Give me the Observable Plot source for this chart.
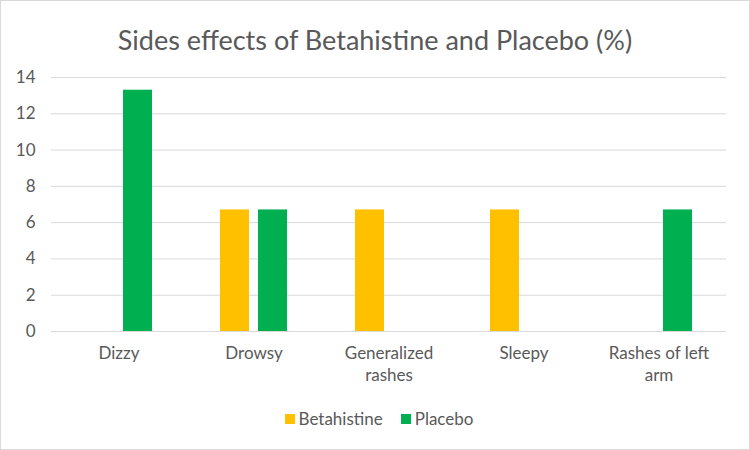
<!DOCTYPE html>
<html><head><meta charset="utf-8">
<script src="https://cdn.jsdelivr.net/npm/d3@7"></script>
<script src="https://cdn.jsdelivr.net/npm/@observablehq/plot@0.6"></script>
<style>
body{margin:0;background:#fff;font-family:Lato,sans-serif;}
#chart{width:750px;height:450px;box-sizing:border-box;border:1px solid #d9d9d9;background:#fff;overflow:hidden}
#title{height:62px;box-sizing:border-box;padding-top:23px;line-height:32px;font-size:27px;color:#595959;text-align:center;white-space:nowrap}
#legend{margin-top:16px;display:flex;justify-content:center;font-size:17px;color:#595959;line-height:20px;padding-left:8px}
.item{display:flex;align-items:center;margin:0 9px}
.sw{width:10px;height:10px;margin-right:4px}
</style>
</head><body>
<div id="chart">
  <div id="title">Sides effects of Betahistine and Placebo (%)</div>
  <div id="plot"></div>
  <div id="legend"></div>
</div>
<script>
const categories = ["Dizzy","Drowsy","Generalized rashes","Sleepy","Rashes of left arm"];
const tickLabels = ["Dizzy","Drowsy","Generalized\nrashes","Sleepy","Rashes of left\narm"];
const series = ["Betahistine","Placebo"];
const betahistine = [0, 6.7, 6.7, 6.7, 0];
const placebo = [13.3, 6.7, 0, 0, 6.7];
const colors = ["#FFC000","#00B050"];
const yTicks = [0,2,4,6,8,10,12,14];

const data = [];
categories.forEach((c,i)=>{
  data.push({category:c, series:"Betahistine", value:betahistine[i]});
  data.push({category:c, series:"Placebo", value:placebo[i]});
});

const chart = Plot.plot({
  width:748, height:330,
  marginTop:14, marginBottom:62, marginLeft:49, marginRight:22,
  style:{fontFamily:"Lato, sans-serif", fontSize:"17px", color:"#595959", background:"white", overflow:"visible"},
  fx:{domain:categories, padding:0, label:null, axis:null},
  x:{domain:series, paddingInner:0.23, paddingOuter:0.85, axis:null},
  y:{domain:[0,14], axis:null},
  color:{domain:series, range:colors},
  marks:[
    Plot.ruleY(yTicks, {stroke:"#d9d9d9", strokeWidth:1}),
    Plot.axisY({ticks:yTicks, tickSize:0, tickPadding:16, label:null, fill:"#595959", fontSize:17}),
    Plot.axisFx({anchor:"bottom", tickSize:0, tickPadding:12, label:null, lineHeight:1.3, fill:"#595959", fontSize:17,
      tickFormat:d=>tickLabels[categories.indexOf(d)]}),
    Plot.barY(data.filter(d=>d.value>0), {fx:"category", x:"series", y:"value", fill:"series"})
  ]
});
document.getElementById("plot").appendChild(chart);

const legend = document.getElementById("legend");
series.forEach((s,i)=>{
  const it = document.createElement("div"); it.className="item";
  const sw = document.createElement("div"); sw.className="sw"; sw.style.background=colors[i];
  const t = document.createElement("span"); t.textContent=s;
  it.appendChild(sw); it.appendChild(t); legend.appendChild(it);
});
</script>
</body></html>
